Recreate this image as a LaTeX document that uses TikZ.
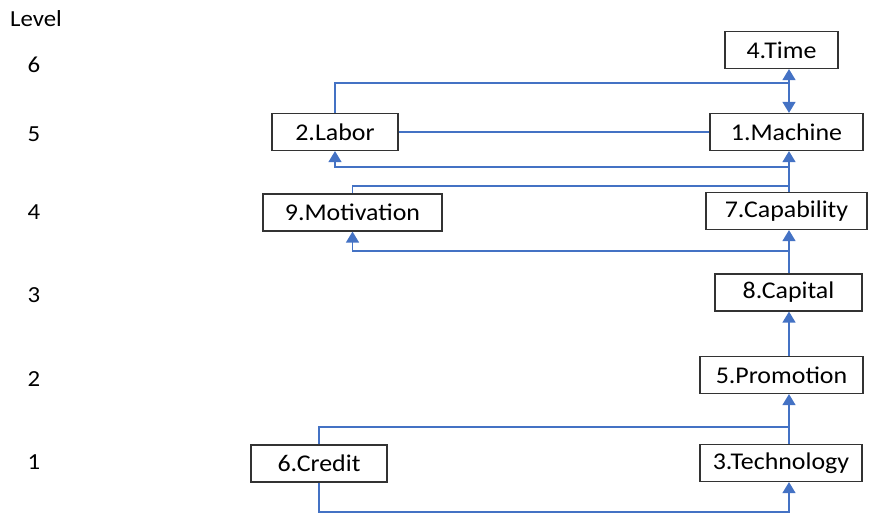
\documentclass[tikz,border=0pt]{standalone}
\usepackage{fontspec}
\setmainfont{Carlito}[FakeStretch=1.08]
\usetikzlibrary{arrows.meta}
\definecolor{linkblue}{RGB}{68,114,196}
\tikzset{
  box/.style={draw=black!80, line width=0.6pt, minimum height=18.5pt, inner sep=0pt, font=\fontsize{12}{14}\selectfont},
  link/.style={draw=linkblue, line width=0.65pt},
  tri/.style={-{Triangle[width=6.5pt,length=5.5pt]}},
  lvl/.style={font=\fontsize{11.5}{13}\selectfont}
}

\begin{document}
\begin{tikzpicture}[x=0.5pt, y=-0.5pt]
\useasboundingbox (0,0) rectangle (873,517);
% levels
\node[lvl] (lvltitle) at (36,19) {Level};
\node[lvl] (lvl6) at (34,65) {6};
\node[lvl] (lvl5) at (34,134) {5};
\node[lvl] (lvl4) at (34,212) {4};
\node[lvl] (lvl3) at (34,295) {3};
\node[lvl] (lvl2) at (34,379) {2};
\node[lvl] (lvl1) at (34,462) {1};
% factors
\node[box, minimum width=56.5pt] (time) at (781.5,50) {4.Time};
\node[box, minimum width=76.5pt] (machine) at (786.5,132) {1.Machine};
\node[box, minimum width=63pt] (labor) at (335,132) {2.Labor};
\node[box, minimum width=89.5pt] (motiv) at (352.5,212.5) {9.Motivation};
\node[box, minimum width=80.5pt] (capab) at (786.5,211) {7.Capability};
\node[box, minimum width=73.5pt] (capital) at (788.5,292.5) {8.Capital};
\node[box, minimum width=81.5pt] (promo) at (781.5,375) {5.Promotion};
\node[box, minimum width=68pt] (credit) at (319,463.5) {6.Credit};
\node[box, minimum width=81pt] (tech) at (781,463) {3.Technology};
% bends
\coordinate (spine) at (789,0);
\coordinate (busA) at (789,83);
\coordinate (busB) at (789,167);
\coordinate (busC) at (789,186);
\coordinate (busD) at (789,251);
\coordinate (busE) at (789,427);
\coordinate (busF) at (789,512);
% links
\draw[link] (labor.north) |- (busA);
\draw[link,tri] (busA) -- (busA |- time.south);
\draw[link,tri] (busA) -- (busA |- machine.north);
\draw[link] (labor.east) -- (machine.west);
\draw[link,tri] (capab.north -| spine) -- (machine.south -| spine);
\draw[link,tri] (busB) -| (labor.south);
\draw[link] (busC) -| (motiv.north);
\draw[link,tri] (capital.north -| spine) -- (capab.south -| spine);
\draw[link,tri] (busD) -| (motiv.south);
\draw[link,tri] (promo.north -| spine) -- (capital.south -| spine);
\draw[link,tri] (tech.north -| spine) -- (promo.south -| spine);
\draw[link] (credit.north) |- (busE);
\draw[link,tri] (credit.south) |- (busF) -- (busF |- tech.south);
\end{tikzpicture}
\end{document}
